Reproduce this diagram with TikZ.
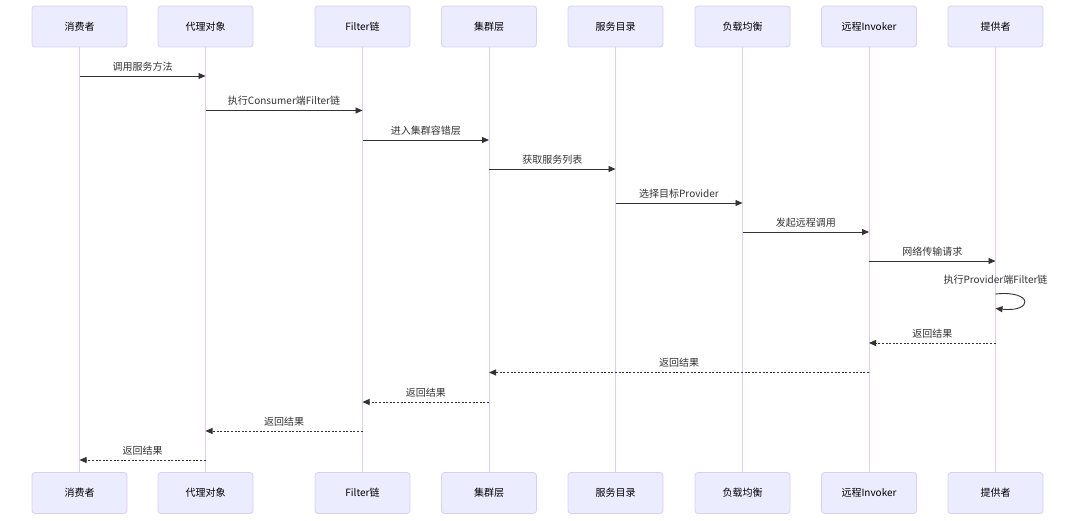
\documentclass[tikz,border=0pt]{standalone}
\usepackage{fontspec}
\setmainfont{Noto Sans CJK SC}
\usetikzlibrary{arrows.meta,calc}
\definecolor{actfill}{HTML}{ECECFF}
\definecolor{actline}{HTML}{DACEF2}
\definecolor{ink}{HTML}{333333}
\tikzset{
  actor/.style={draw=actline, fill=actfill, line width=0.8pt, rounded corners=3pt,
    minimum width=95pt, minimum height=41pt, inner sep=0pt, text=black, font=\fontsize{10}{12}\selectfont},
  lifeline/.style={draw=actline, line width=1pt},
  call/.style={draw=ink, line width=0.9pt, -{Triangle[length=7pt,width=6pt]}},
  reply/.style={call, dash pattern=on 2pt off 1.6pt},
  msglabel/.style={text=ink, font=\fontsize{10}{12}\selectfont, inner sep=0pt}
}
\newcommand{\seqmsg}[6]{%
  \coordinate (#1s) at (#2 |- 0,#4);
  \coordinate (#1e) at (#3 |- 0,#4);
  \draw[#6] (#1s) -- (#1e);
  \node[msglabel] (#1l) at ($(#1s)!0.5!(#1e)+(0,-9.5)$) {#5};
}
\begin{document}
\begin{tikzpicture}[x=1pt,y=-1pt]
\useasboundingbox (0,0) rectangle (1080,521);
\foreach \n/\x/\t in {1/79.5/消费者,2/205.5/代理对象,3/362.5/Filter链,4/489/集群层,5/615.5/服务目录,6/742.5/负载均衡,7/869/远程Invoker,8/995.5/提供者}{
  \node[actor] (t\n) at (\x,26.5) {\t};
  \node[actor] (b\n) at (\x,493) {\t};
  \draw[lifeline] (t\n.south) -- (b\n.north);
}
\seqmsg{m1}{t1}{t2}{76}{调用服务方法}{call}
\seqmsg{m2}{t2}{t3}{110.5}{执行Consumer端Filter链}{call}
\seqmsg{m3}{t3}{t4}{140}{进入集群容错层}{call}
\seqmsg{m4}{t4}{t5}{169}{获取服务列表}{call}
\seqmsg{m5}{t5}{t6}{203}{选择目标Provider}{call}
\seqmsg{m6}{t6}{t7}{232}{发起远程调用}{call}
\seqmsg{m7}{t7}{t8}{261}{网络传输请求}{call}
% self message
\coordinate (s1) at (t8 |- 0,294);
\coordinate (s2) at (t8 |- 0,308.5);
\node[msglabel] (sl) at ($(s1)+(0,-14)$) {执行Provider端Filter链};
\draw[call] (s1) .. controls ($(s1)+(38,-4)$) and ($(s2)+(38,4)$) .. (s2);
\seqmsg{m9}{t8}{t7}{343}{返回结果}{reply}
\seqmsg{m10}{t7}{t4}{372.5}{返回结果}{reply}
\seqmsg{m11}{t4}{t3}{402}{返回结果}{reply}
\seqmsg{m12}{t3}{t2}{431}{返回结果}{reply}
\seqmsg{m13}{t2}{t1}{460}{返回结果}{reply}
\end{tikzpicture}
\end{document}
